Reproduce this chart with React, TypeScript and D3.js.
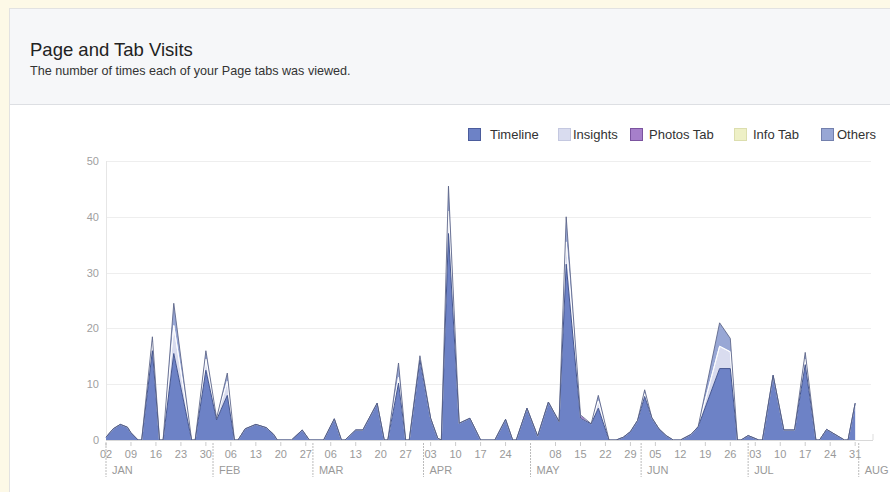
import React from 'react';
import * as d3 from 'd3';

const dates = [
  '2013-01-02','2013-01-04','2013-01-06','2013-01-08','2013-01-09','2013-01-11','2013-01-12','2013-01-15','2013-01-17','2013-01-18',
  '2013-01-21','2013-01-26','2013-01-27','2013-01-30','2013-02-02','2013-02-05','2013-02-07','2013-02-08','2013-02-10','2013-02-13',
  '2013-02-16','2013-02-18','2013-02-19','2013-02-23','2013-02-26','2013-02-28','2013-03-04','2013-03-07','2013-03-09','2013-03-10',
  '2013-03-13','2013-03-15','2013-03-19','2013-03-21','2013-03-22','2013-03-25','2013-03-27','2013-03-28','2013-03-31','2013-04-03',
  '2013-04-05','2013-04-06','2013-04-08','2013-04-11','2013-04-14','2013-04-17','2013-04-21','2013-04-24','2013-04-26','2013-04-27',
  '2013-04-30','2013-05-03','2013-05-06','2013-05-09','2013-05-11','2013-05-15','2013-05-18','2013-05-20','2013-05-23','2013-05-25',
  '2013-05-27','2013-05-29','2013-05-31','2013-06-02','2013-06-04','2013-06-06','2013-06-08','2013-06-10','2013-06-12','2013-06-15',
  '2013-06-17','2013-06-23','2013-06-26','2013-06-28','2013-06-29','2013-07-01','2013-07-04','2013-07-05','2013-07-08','2013-07-11',
  '2013-07-14','2013-07-17','2013-07-20','2013-07-21','2013-07-23','2013-07-28','2013-07-29','2013-07-31'
];
const timeline = [
  0.5, 2, 2.8, 2.3, 1.3, 0, 0, 16, 0, 0,
  15.5, 0, 0, 12.5, 3.6, 8, 0, 0, 2, 2.8,
  2.2, 1, 0, 0, 1.8, 0, 0, 3.8, 0, 0,
  1.8, 1.8, 6.6, 0, 0, 10.2, 0, 0, 14.3, 3.9,
  0.3, 0, 37, 3, 3.9, 0, 0, 3.7, 0, 0,
  5.7, 0.7, 6.8, 3.3, 31.5, 3.9, 2.9, 5.7, 0, 0,
  0.5, 1.5, 3.5, 7.8, 4, 2, 0.8, 0, 0, 1,
  2.4, 12.8, 12.8, 0, 0, 0.8, 0, 0, 11.6, 1.8,
  1.8, 13.5, 0, 0, 1.9, 0, 0, 6.6
];
const insights = [
  0, 0, 0, 0, 0, 0, 0, 1.5, 0, 0,
  5, 0, 0, 2, 0.3, 2.5, 0, 0, 0, 0,
  0, 0, 0, 0, 0, 0, 0, 0, 0, 0,
  0, 0, 0, 0, 0, 1, 0, 0, 0.3, 0,
  0, 0, 4, 0, 0, 0, 0, 0, 0, 0,
  0, 0, 0, 0, 4, 0, 0, 1.3, 0, 0,
  0, 0, 0, 0.5, 0, 0, 0, 0, 0, 0,
  0, 4, 3, 0, 0, 0, 0, 0, 0, 0,
  0, 1, 0, 0, 0, 0, 0, 0
];
const photosTab = [
  0, 0, 0, 0, 0, 0, 0, 0, 0, 0,
  0, 0, 0, 0, 0, 0, 0, 0, 0, 0,
  0, 0, 0, 0, 0, 0, 0, 0, 0, 0,
  0, 0, 0, 0, 0, 0, 0, 0, 0, 0,
  0, 0, 0, 0, 0, 0, 0, 0, 0, 0,
  0, 0, 0, 0, 0, 0.6, 0, 0, 0, 0,
  0, 0, 0, 0, 0, 0, 0, 0, 0, 0,
  0, 0, 0, 0, 0, 0, 0, 0, 0, 0,
  0, 0, 0, 0, 0, 0, 0, 0
];
const infoTab = dates.map(() => 0);
const others = [
  0, 0, 0, 0, 0, 0, 0, 1, 0, 0,
  4, 0, 0, 1.5, 0, 1.5, 0, 0, 0, 0,
  0, 0, 0, 0, 0, 0, 0, 0, 0, 0,
  0, 0, 0, 0, 0, 2.6, 0, 0, 0.5, 0,
  0, 0, 4.5, 0, 0, 0, 0, 0, 0, 0,
  0, 0, 0, 0, 4.5, 0, 0, 1, 0, 0,
  0, 0, 0, 0.7, 0, 0, 0, 0, 0, 0,
  0, 4.2, 2.4, 0, 0, 0, 0, 0, 0, 0,
  0, 1.2, 0, 0, 0, 0, 0, 0
];

const seriesNames = ['Timeline', 'Insights', 'Photos Tab', 'Info Tab', 'Others'];
const seriesFill = ['#6d82c6', '#d9dcef', '#a67fca', '#eef0c6', '#98a7d5'];
const seriesBorder = ['#4b5c9c', '#c4c8e0', '#7b539f', '#dcdeae', '#7380ad'];
const yTicks = [0, 10, 20, 30, 40, 50];
const domainStart = '2013-01-02';
const domainEnd = '2013-08-05';
const lastTick = '2013-07-31';

const W = 890;
const H = 492;
const plot = { left: 107, right: 873, top: 161, bottom: 440 };
const legendBoxX = [468, 558, 630, 734, 821];
const legendTextX = [490, 573, 649, 753, 837];

export default function App() {
  const parse = d3.utcParse('%Y-%m-%d');
  const rows = dates.map((d, i) => ({
    date: parse(d) as Date,
    Timeline: timeline[i],
    Insights: insights[i],
    'Photos Tab': photosTab[i],
    'Info Tab': infoTab[i],
    Others: others[i],
  }));

  const x = d3.scaleUtc()
    .domain([parse(domainStart) as Date, parse(domainEnd) as Date])
    .range([106, plot.right]);
  const y = d3.scaleLinear().domain([0, 50]).range([plot.bottom, plot.top]);

  const stack = d3.stack<any>().keys(seriesNames);
  const layers = stack(rows);

  const area = d3.area<any>()
    .x((d) => x(d.data.date))
    .y0((d) => y(d[0]))
    .y1((d) => y(d[1]));
  const topLine = d3.line<any>()
    .x((d) => x(d.data.date))
    .y((d) => y(d[1]));

  const tickDates = d3.utcDay.range(parse(domainStart) as Date, d3.utcDay.offset(parse(lastTick) as Date, 1), 7);
  const months = d3.utcMonth.range(d3.utcMonth.floor(parse(domainStart) as Date), parse(domainEnd) as Date);
  const fmtDay = d3.utcFormat('%d');
  const fmtMonth = d3.utcFormat('%b');

  const font = 'Arial, "Liberation Sans", Helvetica, sans-serif';
  const totalLayer = layers[layers.length - 1];

  return (
    <svg width={W} height={H} style={{ position: 'absolute', left: 0, top: 0, fontFamily: font }}>
      <rect x={0} y={0} width={W} height={H} fill="#fdf9e7" />
      <rect x={9.5} y={8.5} width={W} height={H} fill="#ffffff" stroke="#e2e2e2" />
      <rect x={10} y={9} width={W} height={95} fill="#f6f7f9" />
      <line x1={10} x2={W} y1={104.5} y2={104.5} stroke="#dddfe3" />
      <text x={30} y={56} fontSize={18.5} fill="#222">Page and Tab Visits</text>
      <text x={30} y={75} fontSize={12.6} fill="#333">The number of times each of your Page tabs was viewed.</text>

      {seriesNames.map((name, i) => (
        <g key={name}>
          <rect x={legendBoxX[i] + 0.5} y={128.5} width={12} height={12} fill={seriesFill[i]} stroke={seriesBorder[i]} />
          <text x={legendTextX[i]} y={139} fontSize={13} fill="#333">{name}</text>
        </g>
      ))}

      {yTicks.map((t) => (
        <g key={t}>
          <line x1={plot.left} x2={plot.right - 2} y1={Math.round(y(t)) + 0.5} y2={Math.round(y(t)) + 0.5} stroke="#eeeeee" />
          <text x={99} y={y(t) + 4} fontSize={11} fill="#a0a0a0" textAnchor="end">{t}</text>
        </g>
      ))}
      <line x1={plot.left - 0.5} x2={plot.left - 0.5} y1={plot.top} y2={plot.bottom} stroke="#e6e6e6" />

      {layers.map((layer, i) => (
        <path key={seriesNames[i]} d={area(layer) || ''} fill={seriesFill[i]} />
      ))}
      {layers.slice(1, 4).map((layer, i) => (
        <path key={'l' + i} d={topLine(layer) || ''} fill="none" stroke="#ffffff" strokeOpacity={0.7} strokeWidth={1} />
      ))}
      <path d={topLine(layers[0]) || ''} fill="none" stroke="#44558f" strokeWidth={1} />
      <path d={topLine(totalLayer) || ''} fill="none" stroke="#5b6386" strokeOpacity={0.85} strokeWidth={1} />

      <line x1={106} x2={plot.right} y1={440.5} y2={440.5} stroke="#d8d8d8" />
      {tickDates.map((d) => (
        <g key={d.toISOString()}>
          {d.getUTCDate() !== 1 && (
            <>
              <line x1={x(d)} x2={x(d)} y1={442} y2={446} stroke="#ccc" />
              <text x={x(d)} y={458} fontSize={11} fill="#999" textAnchor="middle">{fmtDay(d)}</text>
            </>
          )}
        </g>
      ))}
      <line x1={plot.right} x2={plot.right} y1={434} y2={440} stroke="#ddd" />
      {months.map((m) => {
        const mx = Math.max(x(m), 106);
        return (
          <g key={m.toISOString()}>
            <line x1={mx} x2={mx} y1={443} y2={477} stroke="#bbb" strokeDasharray="2,1" />
            <text x={mx + 6} y={474} fontSize={11} fill="#999">{fmtMonth(m).toUpperCase()}</text>
          </g>
        );
      })}
    </svg>
  );
}
